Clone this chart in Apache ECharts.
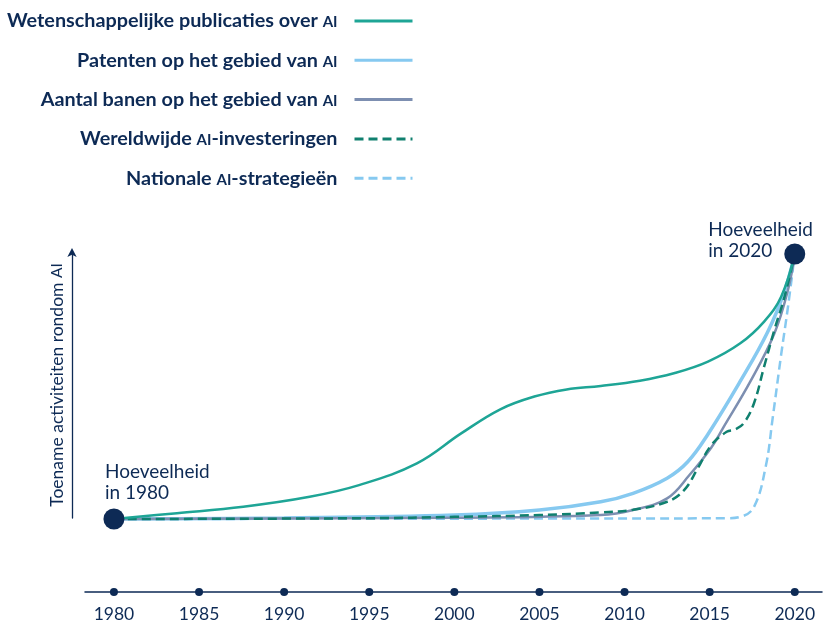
<!DOCTYPE html>
<html>
<head>
<meta charset="utf-8">
<script src="https://cdn.jsdelivr.net/npm/echarts@6/dist/echarts.min.js"></script>
<style>
html,body{margin:0;padding:0;background:#fff;}
#c{width:827px;height:626px;}
</style>
</head>
<body>
<div id="c"></div>
<script>
// ---- data (index: 0 = 1980 level, 100 = 2020 level) ----
const tickYears = [1980, 1985, 1990, 1995, 2000, 2005, 2010, 2015, 2020];
const publicaties = [[1980,0],[1983.7,2.2],[1987.6,4.65],[1991.5,8.4],[1994.4,12.8],[1997.8,21],[2000.4,32.3],[2002.7,41.4],[2004.7,46.2],[2006.6,48.9],[2008.6,50.2],[2010.9,52.2],[2012.9,55],[2014.9,59.4],[2016.8,66.3],[2018.2,74.5],[2019.2,83.9],[2020,100]];
const patenten = [[1980,0],[1990,0.4],[2000,1.5],[2005,3.4],[2008.6,6.5],[2010.5,9.7],[2012.5,15.4],[2013.7,21.5],[2014.9,32],[2016.8,52],[2018.4,70.5],[2019.4,86],[2020,100]];
const banen = [[1980,0],[2000,0.5],[2008.6,1.5],[2010.5,3.4],[2012.5,7.8],[2013.8,16.5],[2015.1,27],[2015.8,34.5],[2017.4,52],[2018.8,70],[2019.6,86.4],[2020,100]];
const investeringen = [[1980,0],[1995,0.3],[2000,0.8],[2005,1.5],[2008.6,2.5],[2010.5,3.5],[2012.5,6.5],[2013.5,10.9],[2014.3,19.1],[2015.1,27.9],[2016,32.9],[2016.5,33.8],[2017,36.1],[2017.6,43.6],[2018.2,57.5],[2018.8,71.3],[2019.4,83.9],[2020,100]];
const strategieen = [[1980,0],[2010,0.2],[2016,0.3],[2016.8,0.8],[2017.6,4.5],[2018.3,20],[2018.7,38],[2019.2,62],[2019.6,80],[2020,100]];
const endpoints = [[1980,0],[2020,100]];
const seriesNames = [
  'Wetenschappelijke publicaties over AI',
  'Patenten op het gebied van AI',
  'Aantal banen op het gebied van AI',
  'Wereldwijde AI-investeringen',
  'Nationale AI-strategieën'
];
const yAxisTitle = 'Toename activiteiten rondom AI';
const annotationPrefix = 'Hoeveelheid\nin ';

// ---- styling ----
const NAVY = '#0d2a55';
const TEAL = '#1ea596';
const DARKTEAL = '#10806f';
const LIGHTBLUE = '#86c9f0';
const GREY = '#7d8fb1';
const FONT = 'Lato, "Noto Sans", sans-serif';
const Y_MIN = -27.55;

function smallCaps(name) {
  const parts = name.split('AI');
  let out = '';
  parts.forEach((p, i) => {
    if (p) out += '{t|' + p + '}';
    if (i < parts.length - 1) out += '{s|AI}';
  });
  return out;
}

function lineSeries(name, data, color, width, dashed, z) {
  return {
    name: name, type: 'line', data: data, xAxisIndex: 0, yAxisIndex: 0,
    smooth: 0.4, symbol: 'none', z: z,
    lineStyle: { color: color, width: width, type: dashed ? [9, 5] : 'solid', cap: 'butt' },
    itemStyle: { color: color },
    emphasis: { disabled: true }
  };
}

const chart = echarts.init(document.getElementById('c'), null, { renderer: 'canvas' });
chart.setOption({
  animation: false,
  backgroundColor: '#ffffff',
  legend: {
    data: seriesNames,
    orient: 'vertical',
    align: 'right',
    right: 408,
    top: 6,
    itemWidth: 58,
    itemHeight: 14,
    itemGap: 19.3,
    lineStyle: { width: 3 },
    itemStyle: { opacity: 0, borderWidth: 0 },
    selectedMode: false,
    formatter: function (n) { return smallCaps(n); },
    textStyle: {
      padding: [0, 12, 0, 0],
      rich: {
        t: { fontFamily: FONT, fontWeight: 'bold', fontSize: 19.8, lineHeight: 22, color: NAVY },
        s: { fontFamily: FONT, fontWeight: 'bold', fontSize: 15, lineHeight: 22, padding: [3, 0, 0, 0], color: NAVY }
      }
    }
  },
  grid: [
    { left: 85, right: 5, top: 254, bottom: 34 },
    { left: 72, top: 252, height: 266, width: 10 }
  ],
  xAxis: [
    {
      type: 'value', gridIndex: 0, min: 1978.3, max: 2021.6,
      splitLine: { show: false },
      axisLine: { show: true, onZero: false, lineStyle: { color: NAVY, width: 1.5 } },
      axisTick: { show: false },
      axisLabel: {
        customValues: tickYears, showMinLabel: true, showMaxLabel: true,
        color: NAVY, fontFamily: FONT, fontSize: 17.5, margin: 13,
        formatter: function (v) { return String(v); }
      }
    },
    { type: 'value', gridIndex: 1, show: false, min: 0, max: 1 }
  ],
  yAxis: [
    { type: 'value', gridIndex: 0, min: Y_MIN, max: 100, show: false },
    {
      type: 'value', gridIndex: 1, min: 0, max: 1, position: 'left',
      axisLine: { show: true, symbol: ['none', 'arrow'], symbolSize: [7, 9], symbolOffset: [0, 4], lineStyle: { color: NAVY, width: 1.3 } },
      axisTick: { show: false }, axisLabel: { show: false }, splitLine: { show: false },
      name: smallCaps(yAxisTitle), nameLocation: 'middle', nameGap: 6, nameRotate: 90,
      nameTextStyle: {
        rich: {
          t: { fontFamily: FONT, fontSize: 17.5, color: NAVY },
          s: { fontFamily: FONT, fontSize: 15.5, color: NAVY }
        }
      }
    }
  ],
  series: [
    lineSeries(seriesNames[1], patenten, LIGHTBLUE, 3.5, false, 2),
    lineSeries(seriesNames[4], strategieen, LIGHTBLUE, 2.5, true, 3),
    lineSeries(seriesNames[2], banen, GREY, 2.5, false, 4),
    lineSeries(seriesNames[3], investeringen, DARKTEAL, 2.5, true, 5),
    lineSeries(seriesNames[0], publicaties, TEAL, 2.5, false, 6),
    {
      type: 'scatter', xAxisIndex: 0, yAxisIndex: 0, z: 10, clip: false,
      symbolSize: 8, itemStyle: { color: NAVY, opacity: 1 }, silent: true,
      data: tickYears.map(function (y) { return [y, Y_MIN]; })
    },
    {
      type: 'scatter', xAxisIndex: 0, yAxisIndex: 0, z: 10, clip: false,
      symbolSize: 21, itemStyle: { color: NAVY, opacity: 1 }, silent: true,
      data: endpoints.map(function (p, i) {
        return {
          value: p,
          label: {
            show: true,
            position: i === 0 ? [1.5, -47] : [-76, -24],
            align: 'left', verticalAlign: 'top',
            formatter: annotationPrefix + p[0],
            fontFamily: FONT, fontSize: 19, lineHeight: 21, color: NAVY
          }
        };
      })
    }
  ]
});
</script>
</body>
</html>
